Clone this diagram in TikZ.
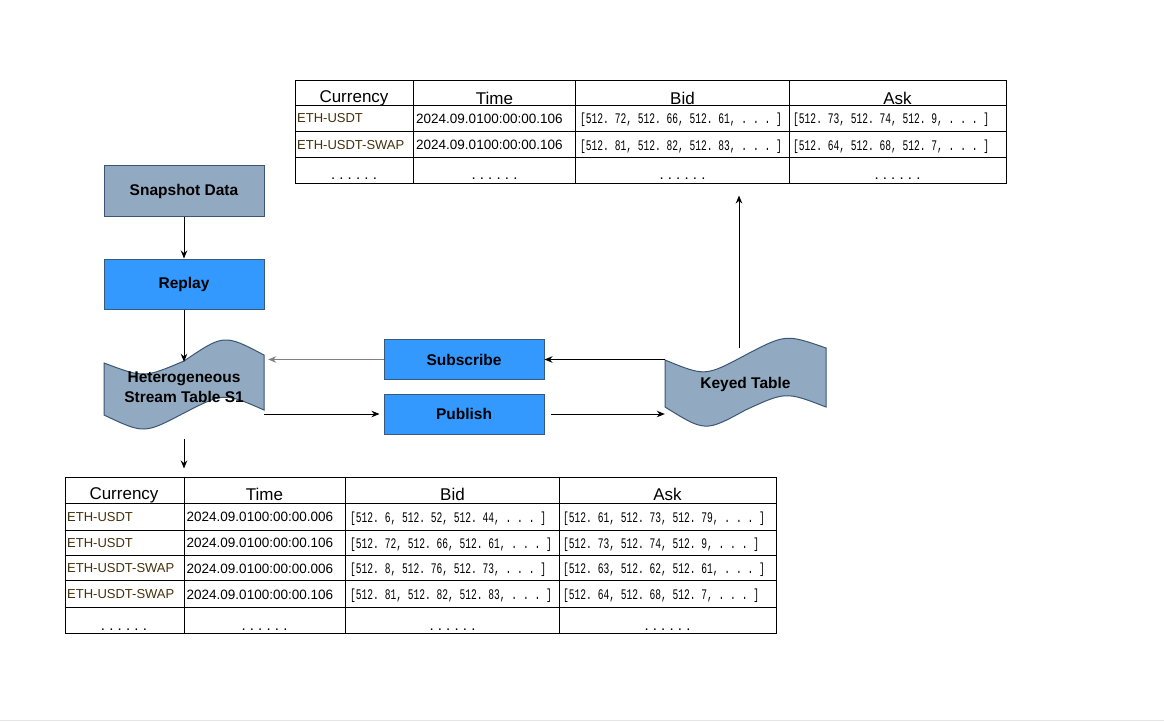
\documentclass[tikz,border=0pt]{standalone}
\usepackage{fontspec}
\setmainfont{Liberation Sans}
\newfontfamily\arrfont{Liberation Mono}
\usetikzlibrary{arrows.meta}
\definecolor{slate}{HTML}{91AAC1}
\definecolor{slateline}{HTML}{3B5573}
\definecolor{brightblue}{HTML}{3399FF}
\definecolor{boxline}{HTML}{36597D}
\definecolor{ethbrown}{HTML}{45300C}
\definecolor{grayarrow}{HTML}{808080}
\newcommand{\sixdots}{.\hspace{4.2pt}.\hspace{4.2pt}.\hspace{4.2pt}.\hspace{4.2pt}.\hspace{4.2pt}.}
\newcommand{\arrval}[1]{\frenchspacing\scalebox{0.8}[1.22]{#1}}
\tikzset{
  procbox/.style={draw=boxline, line width=1pt, fill=brightblue, minimum width=160pt, minimum height=40pt, inner sep=0pt, font=\fontsize{15.5}{18}\selectfont\bfseries},
  databox/.style={procbox, draw=slateline, fill=slate, minimum height=50pt},
  tapeanchor/.style={minimum width=160pt, minimum height=80pt, inner sep=0pt, align=center, font=\fontsize{15.5}{20}\selectfont\bfseries},
  tapeshape/.style={draw=slateline, line width=1pt, fill=slate},
  arr/.style={-{Stealth[length=8pt,width=6.5pt]}, line width=1pt, black},
  tablebox/.style={draw, line width=1pt, inner sep=0pt, anchor=north west},
  gridline/.style={line width=1pt},
  hdrtxt/.style={anchor=base, inner sep=0pt, font=\fontsize{17}{20}\selectfont},
  ethtxt/.style={anchor=base west, inner sep=0pt, text=ethbrown, font=\fontsize{13}{15}\selectfont},
  timetxt/.style={anchor=base west, inner sep=0pt, font=\fontsize{13.5}{15}\selectfont},
  arrtxt/.style={anchor=base west, inner sep=0pt, font=\fontsize{12}{14}\arrfont},
  dotstxt/.style={anchor=base, inner sep=0pt, font=\fontsize{15}{17}\selectfont},
}
\begin{document}
\begin{tikzpicture}[x=1pt,y=-1pt]
\useasboundingbox (0,0) rectangle (1164,722);
\fill[white] (0,0) rectangle (1164,722);
\draw[black!10, line width=1pt] (0,720) -- (1164,720);

% ---------- left column ----------
\node[databox] (snap) at (184,191) {Snapshot Data};
\node[procbox, minimum height=50pt] (replay) at (184,284) {Replay};

% Heterogeneous stream table (tape)
\draw[tapeshape] (104,363) .. controls (144,378) .. (184,361) .. controls (224,334) .. (264,355)
  -- (264,410) .. controls (224,392.5) .. (184,413) .. controls (144,434) .. (104,415) -- cycle;
\node[tapeanchor] (het) at (184,387) {Heterogeneous\\Stream Table S1};

% Keyed table (tape)
\draw[tapeshape] (665,360) .. controls (705.25,376.5) .. (745.5,355) .. controls (785.75,334) .. (826,348)
  -- (826,407) .. controls (785.75,391.5) .. (745.5,410) .. controls (705.25,432) .. (665,407) -- cycle;
\node[tapeanchor, minimum width=161pt] (key) at (745.5,384) {Keyed Table};

% middle boxes
\node[procbox] (sub) at (464,359.5) {Subscribe};
\node[procbox] (pub) at (464,414) {Publish};

% ---------- top table ----------
\node[tablebox, minimum width=711pt, minimum height=103pt] (toptab) at (294.5,80.5) {};
\draw[gridline] (413.5,80.5) -- (413.5,183.5) (575.5,80.5) -- (575.5,183.5) (789.5,80.5) -- (789.5,183.5);
\draw[gridline] (294.5,105.5) -- (1005.5,105.5) (294.5,132) -- (1005.5,132) (294.5,158) -- (1005.5,158);
\node[hdrtxt] (th1) at (354,103) {Currency};
\node[hdrtxt] (th2) at (494.5,104.5) {Time};
\node[hdrtxt] (th3) at (682.5,104.5) {Bid};
\node[hdrtxt] (th4) at (897.5,104.5) {Ask};
\node[ethtxt] (t11) at (297,123) {ETH-USDT};
\node[timetxt] (t12) at (416,123.5) {2024.09.0100:00:00.106};
\node[arrtxt] (t13) at (580,124) {\arrval{[512. 72, 512. 66, 512. 61, . . . ]}};
\node[arrtxt] (t14) at (793,124) {\arrval{[512. 73, 512. 74, 512. 9, . . . ]}};
\node[ethtxt] (t21) at (297,149.5) {ETH-USDT-SWAP};
\node[timetxt] (t22) at (416,150) {2024.09.0100:00:00.106};
\node[arrtxt] (t23) at (580,150.5) {\arrval{[512. 81, 512. 82, 512. 83, . . . ]}};
\node[arrtxt] (t24) at (793,150.5) {\arrval{[512. 64, 512. 68, 512. 7, . . . ]}};
\node[dotstxt] (t31) at (354,180) {\sixdots};
\node[dotstxt] (t32) at (494.5,180) {\sixdots};
\node[dotstxt] (t33) at (682.5,180) {\sixdots};
\node[dotstxt] (t34) at (897.5,180) {\sixdots};

% ---------- bottom table ----------
\node[tablebox, minimum width=711pt, minimum height=156.5pt] (bottab) at (64.5,476.5) {};
\draw[gridline] (184,476.5) -- (184,633) (345.5,476.5) -- (345.5,633) (559.5,476.5) -- (559.5,633);
\draw[gridline] (64.5,503) -- (775.5,503) (64.5,530) -- (775.5,530) (64.5,555) -- (775.5,555)
  (64.5,580.5) -- (775.5,580.5) (64.5,607) -- (775.5,607);
\node[hdrtxt] (bh1) at (124,499) {Currency};
\node[hdrtxt] (bh2) at (264.5,500.5) {Time};
\node[hdrtxt] (bh3) at (452.5,500.5) {Bid};
\node[hdrtxt] (bh4) at (667.5,500.5) {Ask};
\node[ethtxt] (b11) at (67,521) {ETH-USDT};
\node[timetxt] (b12) at (186.5,521.5) {2024.09.0100:00:00.006};
\node[arrtxt] (b13) at (350,522) {\arrval{[512. 6, 512. 52, 512. 44, . . . ]}};
\node[arrtxt] (b14) at (563,522) {\arrval{[512. 61, 512. 73, 512. 79, . . . ]}};
\node[ethtxt] (b21) at (67,547) {ETH-USDT};
\node[timetxt] (b22) at (186.5,547.5) {2024.09.0100:00:00.106};
\node[arrtxt] (b23) at (350,548) {\arrval{[512. 72, 512. 66, 512. 61, . . . ]}};
\node[arrtxt] (b24) at (563,548) {\arrval{[512. 73, 512. 74, 512. 9, . . . ]}};
\node[ethtxt] (b31) at (67,572.5) {ETH-USDT-SWAP};
\node[timetxt] (b32) at (186.5,573) {2024.09.0100:00:00.006};
\node[arrtxt] (b33) at (350,573.5) {\arrval{[512. 8, 512. 76, 512. 73, . . . ]}};
\node[arrtxt] (b34) at (563,573.5) {\arrval{[512. 63, 512. 62, 512. 61, . . . ]}};
\node[ethtxt] (b41) at (67,598.5) {ETH-USDT-SWAP};
\node[timetxt] (b42) at (186.5,599) {2024.09.0100:00:00.106};
\node[arrtxt] (b43) at (350,599.5) {\arrval{[512. 81, 512. 82, 512. 83, . . . ]}};
\node[arrtxt] (b44) at (563,599.5) {\arrval{[512. 64, 512. 68, 512. 7, . . . ]}};
\node[dotstxt] (b51) at (124,630) {\sixdots};
\node[dotstxt] (b52) at (264.5,630) {\sixdots};
\node[dotstxt] (b53) at (452.5,630) {\sixdots};
\node[dotstxt] (b54) at (667.5,630) {\sixdots};

% ---------- connectors ----------
\draw[arr] (snap.south) -- (replay.north);
\draw[arr] (replay.south) -- ([yshift=-15pt]het.north);
\draw[arr, draw=grayarrow, line width=1.6pt] (sub.west) -- ([xshift=4pt]het.east |- sub.west);
\draw[arr] (key.west |- sub.east) -- (sub.east);
\draw[arr] (het.east |- pub.west) -- ([xshift=-4pt]pub.west);
\draw[arr] ([xshift=6pt]pub.east) -- (key.west |- pub.east);
\coordinate (kup) at (739,348);
\draw[arr] (kup) -- ([yshift=-11pt]kup |- toptab.south);
\draw[arr] ([yshift=-12pt]het.south) -- ([yshift=8pt]het.south |- bottab.north);
\end{tikzpicture}
\end{document}
